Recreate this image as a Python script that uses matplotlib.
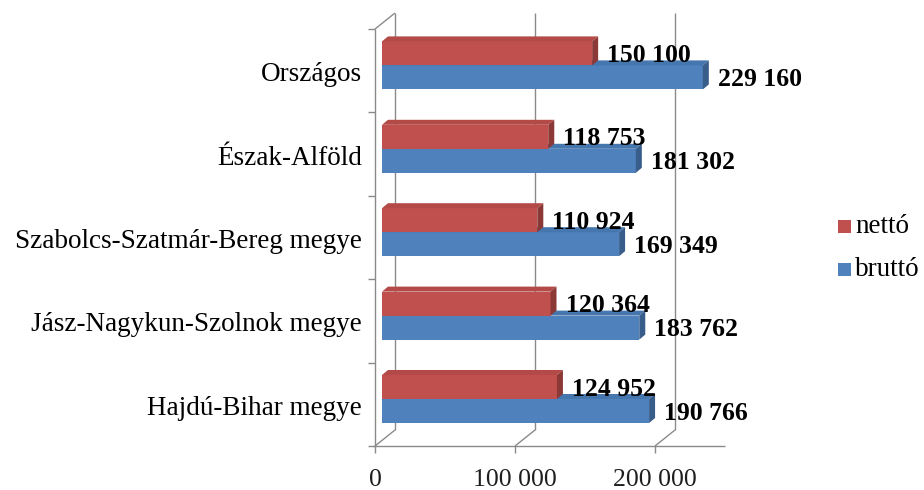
import matplotlib
matplotlib.use("Agg")
import matplotlib.pyplot as plt
from matplotlib.patches import Polygon, Rectangle

# ---- data -------------------------------------------------------------
categories = [
    "Hajdú-Bihar megye",
    "Jász-Nagykun-Szolnok megye",
    "Szabolcs-Szatmár-Bereg megye",
    "Észak-Alföld",
    "Országos",
]
netto = [124952, 120364, 110924, 118753, 150100]
brutto = [190766, 183762, 169349, 181302, 229160]
series_names = ["nettó", "bruttó"]
x_ticks = [0, 100000, 200000]
x_tick_labels = ["0", "100 000", "200 000"]
x_max = 250000

# ---- styling ----------------------------------------------------------
W, H = 924, 490
SERIF = "Liberation Serif"
RED = dict(front="#C0504D", top="#B44A47", side="#8C3836")
BLUE = dict(front="#4F81BD", top="#4676AE", side="#385D8A")
GRID = "#8A8A8A"

PX_PER_UNIT = 0.0014   # horizontal pixels per value unit
ROW_PX = 83.4          # height of one category band in pixels
X0_PX = 375            # value 0 on the front plane
FLOOR_PX = 446         # front edge of the floor (from the top)

fig = plt.figure(figsize=(W / 100, H / 100), dpi=100)
ax = fig.add_axes([0, 0, 1, 1])
ax.axis("off")
ax.set_xlim(-X0_PX / PX_PER_UNIT, (W - X0_PX) / PX_PER_UNIT)
ax.set_ylim((FLOOR_PX - H) / ROW_PX - 0.5, FLOOR_PX / ROW_PX - 0.5)


def dx(px):
    return px / PX_PER_UNIT


def dy(px):
    return px / ROW_PX


n = len(categories)
y_floor, y_top = -0.5, n - 0.5
depth_x, depth_y = dx(20), dy(16)
line_kw = dict(color=GRID, lw=1.0, solid_capstyle="butt", zorder=1)

# back wall gridlines, floor diagonals and value ticks
for t in x_ticks:
    ax.plot([t + depth_x] * 2, [y_floor + depth_y, y_top + depth_y], **line_kw)
    ax.plot([t, t + depth_x], [y_floor, y_floor + depth_y], **line_kw)
    ax.plot([t, t], [y_floor, y_floor - dy(7)], **line_kw)
ax.plot([-dx(2), x_max], [y_floor, y_floor], **line_kw)

# left wall edge with category ticks
ax.plot([0, 0], [y_floor, y_top], **line_kw)
ax.plot([0, depth_x], [y_top, y_top + depth_y], **line_kw)
for k in range(n + 1):
    ax.plot([-dx(7), 0], [k - 0.5] * 2, **line_kw)

# ---- 3D bars ----------------------------------------------------------
bar_h = dy(24)
bar_x0 = dx(7)
bar_lift = dy(5.3)
bdx, bdy = dx(6), dy(5)


def draw_bar(y0, v, col, z):
    ax.barh(y0, v, height=bar_h, left=bar_x0, align="edge",
            color=col["front"], linewidth=0, zorder=z)
    x1 = bar_x0 + v
    yt = y0 + bar_h
    ax.add_patch(Polygon([(bar_x0, yt), (x1, yt), (x1 + bdx, yt + bdy),
                          (bar_x0 + bdx, yt + bdy)], closed=True,
                         facecolor=col["top"], linewidth=0, zorder=z))
    ax.add_patch(Polygon([(x1, y0), (x1 + bdx, y0 + bdy),
                          (x1 + bdx, yt + bdy), (x1, yt)], closed=True,
                         facecolor=col["side"], linewidth=0, zorder=z))


def fmt(v):
    return f"{v:,}".replace(",", " ")


for i in range(n):
    yc = i + bar_lift
    draw_bar(yc - bar_h, brutto[i], BLUE, 3 + 2 * i)
    draw_bar(yc, netto[i], RED, 4 + 2 * i)
    for y0, v in ((yc - bar_h, brutto[i]), (yc, netto[i])):
        ax.text(bar_x0 + v + dx(15), y0 + bar_h / 2 - dy(8.5), fmt(v),
                ha="left", va="baseline", family=SERIF, weight="bold",
                fontsize=18.5, color="black", zorder=20)
    ax.text(-dx(13), i - dy(10.5), categories[i], ha="right", va="baseline",
            family=SERIF, fontsize=19.5, color="black")

for t, lab in zip(x_ticks, x_tick_labels):
    ax.text(t, y_floor - dy(40), lab, ha="center", va="baseline",
            family=SERIF, fontsize=18.5, color="#1E1E1E")

# ---- legend -----------------------------------------------------------
for (name, col), ytop in zip(zip(series_names, (RED, BLUE)), (220, 263)):
    fig.patches.append(Rectangle((838 / W, 1 - (ytop + 13) / H), 13 / W, 13 / H,
                                 transform=fig.transFigure,
                                 facecolor=col["front"], linewidth=0))
    fig.text(855 / W, 1 - (ytop + 13) / H, name, ha="left", va="baseline",
             family=SERIF, fontsize=19.5, color="black")

fig.savefig("out.png", dpi=100)
